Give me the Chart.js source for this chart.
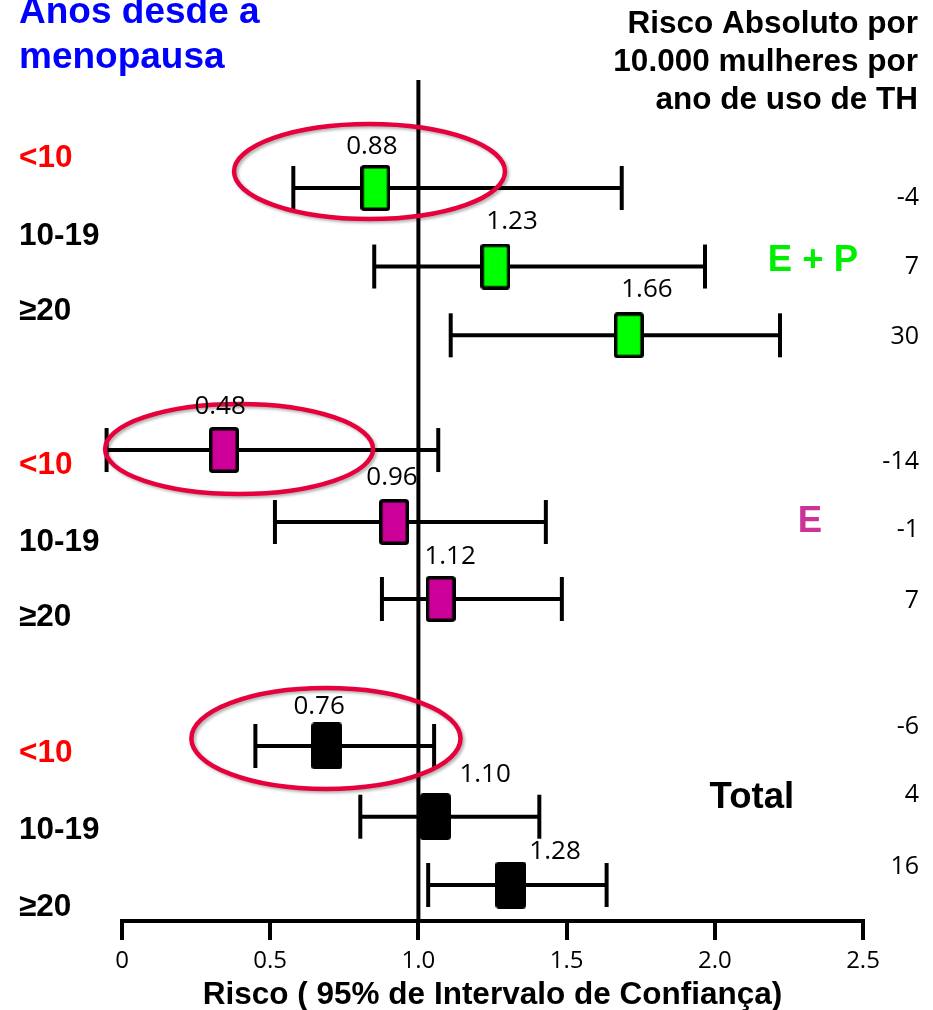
<!DOCTYPE html>
<html>
<head>
<meta charset="utf-8">
<script src="https://cdn.jsdelivr.net/npm/chart.js@4.4.0/dist/chart.umd.min.js"></script>
<style>
  body { margin: 0; background: #fff; overflow: hidden; }
</style>
</head>
<body>
<canvas id="myChart" width="933" height="1010"></canvas>
<script>
//------------- data ---------------------  //
const groups = ['E + P', 'E', 'Total'];
const groupOf = [0, 0, 0, 1, 1, 1, 2, 2, 2];
const ageBands = ['<10', '10-19', '≥20', '<10', '10-19', '≥20', '<10', '10-19', '≥20'];
const rrLabels = ['0.88', '1.23', '1.66', '0.48', '0.96', '1.12', '0.76', '1.10', '1.28'];
const est = [0.855, 1.26, 1.71, 0.344, 0.918, 1.075, 0.691, 1.057, 1.312];
const lo  = [0.578, 0.851, 1.109, -0.052, 0.516, 0.877, 0.45, 0.804, 1.033];
const hi  = [1.686, 1.967, 2.22, 1.067, 1.43, 1.484, 1.053, 1.408, 1.635];
const absRisk = ['-4', '7', '30', '-14', '-1', '7', '-6', '4', '16'];
const xTickLabels = ['0', '0.5', '1.0', '1.5', '2.0', '2.5'];

// row positions on the (hidden) vertical scale, 0 = top, 10 = axis
const rowY = [1.284, 2.218, 3.036, 4.40, 5.256, 6.171, 7.919, 8.760, 9.572];
const bandY = [0.927, 1.855, 2.755, 4.578, 5.493, 6.385, 8.002, 8.918, 9.834];
const absY = [1.403, 2.224, 3.056, 4.542, 5.351, 6.195, 7.693, 8.502, 9.358];
// where the value labels sit
const rrLabelX = [0.843, 1.316, 1.771, 0.331, 0.911, 1.107, 0.665, 1.225, 1.461];
const rrLabelY = [0.797, 1.688, 2.497, 3.888, 4.732, 5.672, 7.455, 8.264, 9.18];
const groupLabelX = [2.331, 2.321, 2.125];
const groupLabelY = [2.152, 5.256, 8.537];
// red rings: [cx, cy, rx, ry] in scale units
const rings = [
  [0.835, 1.088, 0.457, 0.565],
  [0.395, 4.388, 0.452, 0.535],
  [0.688, 7.83, 0.454, 0.6]
];

const boxColors = ['#00ff00', '#cc0099', '#000000'];
const groupTextColors = ['#00ee00', '#cc3399', '#000000'];

// box marker images
function makeBox(fill, w, h) {
  const c = document.createElement('canvas');
  c.width = w; c.height = h;
  const g = c.getContext('2d');
  g.lineWidth = 3.5;
  g.strokeStyle = '#000';
  g.fillStyle = fill;
  g.beginPath();
  g.roundRect(1.75, 1.75, w - 3.5, h - 3.5, 2);
  g.fill();
  g.stroke();
  return c;
}
const boxImgs = [makeBox(boxColors[0], 30, 46), makeBox(boxColors[1], 30, 46), makeBox(boxColors[2], 31, 47)];

const datasets = [];

// boxes on top
datasets.push({
  label: 'RR',
  data: est.map((v, i) => ({ x: v, y: rowY[i] })),
  pointStyle: groupOf.map(g => boxImgs[g]),
  pointRadius: 20,
  showLine: false,
  clip: false,
  order: 0
});

// whiskers with caps
est.forEach((v, i) => {
  datasets.push({
    label: 'ci' + i,
    data: [{ x: lo[i], y: rowY[i] }, { x: hi[i], y: rowY[i] }],
    showLine: true,
    borderColor: '#000',
    borderWidth: 4,
    pointStyle: 'line',
    pointRotation: 90,
    pointRadius: 22,
    pointBorderWidth: 4,
    pointBorderColor: '#000',
    clip: false,
    order: 1
  });
});

// line of no effect
datasets.push({
  label: 'ref',
  data: [{ x: 1, y: 0 }, { x: 1, y: 10 }],
  showLine: true,
  borderColor: '#000',
  borderWidth: 4,
  pointRadius: 0,
  clip: false,
  order: 2
});

const SANS = '"Liberation Sans", Arial, sans-serif';
const CAL = '"Open Sans", sans-serif';

const textPlugin = {
  id: 'forestText',
  afterDatasetsDraw(chart) {
    const { ctx, scales: { x, y } } = chart;
    ctx.save();
    // red rings
    ctx.strokeStyle = '#e6003c';
    ctx.lineWidth = 4.5;
    ctx.shadowColor = 'rgba(0,0,0,0.3)';
    ctx.shadowBlur = 3;
    ctx.shadowOffsetX = 2;
    ctx.shadowOffsetY = 2;
    rings.forEach(r => {
      const cx = x.getPixelForValue(r[0]);
      const cy = y.getPixelForValue(r[1]);
      const rx = x.getPixelForValue(r[0] + r[2]) - cx;
      const ry = y.getPixelForValue(r[1] + r[3]) - cy;
      ctx.beginPath();
      ctx.ellipse(cx, cy, rx, Math.abs(ry), 0, 0, Math.PI * 2);
      ctx.stroke();
    });
    ctx.restore();

    ctx.save();
    ctx.textBaseline = 'middle';
    // value labels
    ctx.font = '26px ' + CAL;
    ctx.fillStyle = '#000';
    ctx.textAlign = 'center';
    rrLabels.forEach((t, i) => {
      ctx.fillText(t, x.getPixelForValue(rrLabelX[i]), y.getPixelForValue(rrLabelY[i]));
    });
    // absolute risk column
    ctx.font = '25px ' + CAL;
    ctx.textAlign = 'right';
    absRisk.forEach((t, i) => {
      ctx.fillText(t, 919, y.getPixelForValue(absY[i]));
    });
    // age bands
    ctx.font = 'bold 31.5px ' + SANS;
    ctx.textAlign = 'left';
    ageBands.forEach((t, i) => {
      ctx.fillStyle = t === '<10' ? '#ff0000' : '#000';
      ctx.fillText(t, 19, y.getPixelForValue(bandY[i]));
    });
    // group names
    ctx.textAlign = 'center';
    groups.forEach((t, i) => {
      ctx.font = 'bold 36.5px ' + SANS;
      ctx.fillStyle = groupTextColors[i];
      ctx.fillText(t, x.getPixelForValue(groupLabelX[i]), y.getPixelForValue(groupLabelY[i]));
    });
    // headings
    ctx.textBaseline = 'alphabetic';
    ctx.textAlign = 'left';
    ctx.fillStyle = '#0000ff';
    ctx.font = 'bold 37px ' + SANS;
    ctx.fillText('Anos desde a', 19, 23);
    ctx.fillText('menopausa', 19, 68);
    ctx.textAlign = 'right';
    ctx.fillStyle = '#000';
    ctx.font = 'bold 31.5px ' + SANS;
    ctx.fillText('Risco Absoluto por', 918, 33);
    ctx.fillText('10.000 mulheres por', 918, 71);
    ctx.fillText('ano de uso de TH', 918, 109);
    ctx.restore();
  }
};

const ctx = document.getElementById('myChart');

new Chart(ctx, {
  type: 'scatter',
  data: { datasets: datasets },
  options: {
    responsive: false,
    animation: false,
    events: [],
    layout: { padding: { left: 122, right: 70, top: 80, bottom: 0 } },
    plugins: {
      legend: { display: false },
      tooltip: { enabled: false }
    },
    scales: {
      x: {
        type: 'linear',
        min: 0,
        max: 2.5,
        border: { display: true, color: '#000', width: 4 },
        grid: { drawOnChartArea: false, drawTicks: true, tickLength: 19, lineWidth: 4, color: '#000' },
        ticks: {
          stepSize: 0.5,
          padding: 7,
          color: '#000',
          font: { family: 'Open Sans', size: 24 },
          maxRotation: 0,
          callback: (v, i) => xTickLabels[i]
        },
        title: {
          display: true,
          text: 'Risco ( 95% de Intervalo de Confiança)',
          color: '#000',
          font: { family: 'Liberation Sans', size: 31.5, weight: 'bold', lineHeight: 1 },
          padding: { top: 0, bottom: -1 }
        },
        afterFit: (s) => { s.height = 89; }
      },
      y: {
        type: 'linear',
        display: false,
        reverse: true,
        min: 0,
        max: 10
      }
    }
  },
  plugins: [textPlugin]
});
</script>
</body>
</html>
